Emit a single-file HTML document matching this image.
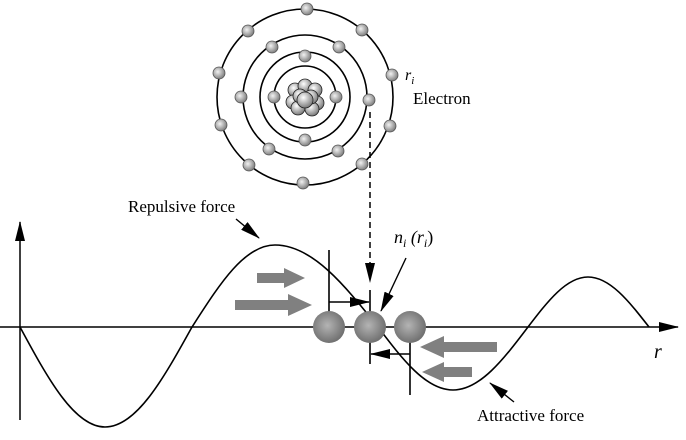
<!DOCTYPE html>
<html><head><style>body{margin:0;background:#fff}svg{display:block}</style></head><body>
<svg width="686" height="440" viewBox="0 0 686 440" xmlns="http://www.w3.org/2000/svg" font-family="Liberation Serif, serif">
<defs>
<radialGradient id="e" cx="0.4" cy="0.4" r="0.6"><stop offset="0" stop-color="#f2f2f2"/><stop offset="1" stop-color="#808080"/></radialGradient>
<radialGradient id="b" cx="0.45" cy="0.45" r="0.6"><stop offset="0" stop-color="#b4b4b4"/><stop offset="1" stop-color="#6a6a6a"/></radialGradient>
<radialGradient id="n" cx="0.4" cy="0.35" r="0.7"><stop offset="0" stop-color="#ffffff"/><stop offset="1" stop-color="#707070"/></radialGradient>
<marker id="ah" markerWidth="10" markerHeight="8" refX="9" refY="4" orient="auto" markerUnits="userSpaceOnUse"><path d="M0,0 L10,4 L0,8 Z" fill="#000"/></marker>
<marker id="ah2" markerWidth="20" markerHeight="10" refX="19" refY="5" orient="auto" markerUnits="userSpaceOnUse"><path d="M0,0 L20,5 L0,10 Z" fill="#000"/></marker>
</defs>
<g fill="none" stroke="#000" stroke-width="1.6">
<circle cx="305" cy="97" r="88"/><circle cx="305" cy="97" r="62"/><circle cx="305" cy="97" r="45"/><circle cx="305" cy="97" r="31"/>
</g>
<g fill="url(#e)" stroke="#555" stroke-width="0.8">
<circle cx="307" cy="9" r="6"/><circle cx="362" cy="30" r="6"/><circle cx="392" cy="75" r="6"/><circle cx="390" cy="126" r="6"/><circle cx="362" cy="164" r="6"/><circle cx="303" cy="183" r="6"/><circle cx="249" cy="165" r="6"/><circle cx="221" cy="125" r="6"/><circle cx="219" cy="73" r="6"/><circle cx="248" cy="31" r="6"/>
<circle cx="272" cy="47" r="6"/><circle cx="339" cy="47" r="6"/><circle cx="241" cy="97" r="6"/><circle cx="369" cy="100" r="6"/><circle cx="269" cy="149" r="6"/><circle cx="338" cy="151" r="6"/>
<circle cx="305" cy="56" r="6"/><circle cx="274" cy="97" r="6"/><circle cx="336" cy="97" r="6"/><circle cx="305" cy="140" r="6"/>
</g>
<g fill="url(#n)" stroke="#222" stroke-width="0.8">
<circle cx="295" cy="90" r="7"/><circle cx="305" cy="86" r="7"/><circle cx="315" cy="90" r="7"/><circle cx="293" cy="102" r="7"/><circle cx="317" cy="103" r="7"/><circle cx="298" cy="108" r="7"/><circle cx="312" cy="109" r="7"/><circle cx="300" cy="96" r="7"/><circle cx="311" cy="97" r="7"/><circle cx="305" cy="100" r="8"/>
</g>
<line x1="370" y1="112" x2="370" y2="282" stroke="#000" stroke-width="1.5" stroke-dasharray="6,4" marker-end="url(#ah2)"/>
<text x="405" y="80" font-size="16" font-style="italic" fill="#000">r<tspan font-size="11" dy="4">i</tspan></text>
<text x="413" y="104" font-size="17">Electron</text>
<!-- axes -->
<line x1="0" y1="327" x2="678" y2="327" stroke="#000" stroke-width="1.5" marker-end="url(#ah2)"/>
<line x1="20" y1="420" x2="20" y2="222" stroke="#000" stroke-width="1.5" marker-end="url(#ah2)"/>
<path d="M20,327 C47.7,378.3 74.3,427 105,427 C136.5,427 163.6,378.3 192,327 C219.1,285 244,245 275,245 C312.3,245 344.4,285 378,327 C402.5,359.3 425.9,390 453,390 C480.1,390 503.5,359.3 528,327 C547.6,301.4 566.3,277 588,277 C610,277 629,301.4 649,327" fill="none" stroke="#000" stroke-width="1.6"/>
<!-- gray arrows -->
<g fill="#808080">
<path d="M257,273 H284 V268 L305,278 L284,288 V283 H257 Z"/>
<path d="M235,300 H288 V294 L312,305 L288,316 V310 H235 Z"/>
<path d="M497,342 H444 V336 L420,347 L444,358 V352 H497 Z"/>
<path d="M472,367 H444 V362 L422,372 L444,382 V377 H472 Z"/>
</g>
<!-- vertical lines and small arrows -->
<g stroke="#000" stroke-width="1.6">
<line x1="329" y1="250" x2="329" y2="312"/>
<line x1="370" y1="290" x2="370" y2="364"/>
<line x1="410" y1="340" x2="410" y2="395"/>
<line x1="329" y1="302" x2="369" y2="302" marker-end="url(#ah2)"/>
<line x1="410" y1="354" x2="371" y2="354" marker-end="url(#ah2)"/>
</g>
<circle cx="329" cy="327" r="16" fill="url(#b)"/>
<circle cx="370" cy="327" r="16" fill="url(#b)"/>
<circle cx="410" cy="327" r="16" fill="url(#b)"/>
<!-- labels -->
<text x="128" y="212" font-size="17">Repulsive force</text>
<line x1="236" y1="219" x2="259" y2="238" stroke="#000" stroke-width="1.4" marker-end="url(#ah2)"/>
<text x="394" y="243" font-size="18" font-style="italic" fill="#000">n<tspan font-size="12" dy="4">i</tspan><tspan dy="-4"> (r</tspan><tspan font-size="12" dy="4">i</tspan><tspan dy="-4" font-style="normal">)</tspan></text>
<line x1="406" y1="258" x2="381" y2="311" stroke="#000" stroke-width="1.4" marker-end="url(#ah2)"/>
<text x="477" y="421" font-size="17">Attractive force</text>
<line x1="514" y1="402" x2="490" y2="383" stroke="#000" stroke-width="1.4" marker-end="url(#ah2)"/>
<text x="654" y="358" font-size="20" font-style="italic">r</text>
</svg>
</body></html>
